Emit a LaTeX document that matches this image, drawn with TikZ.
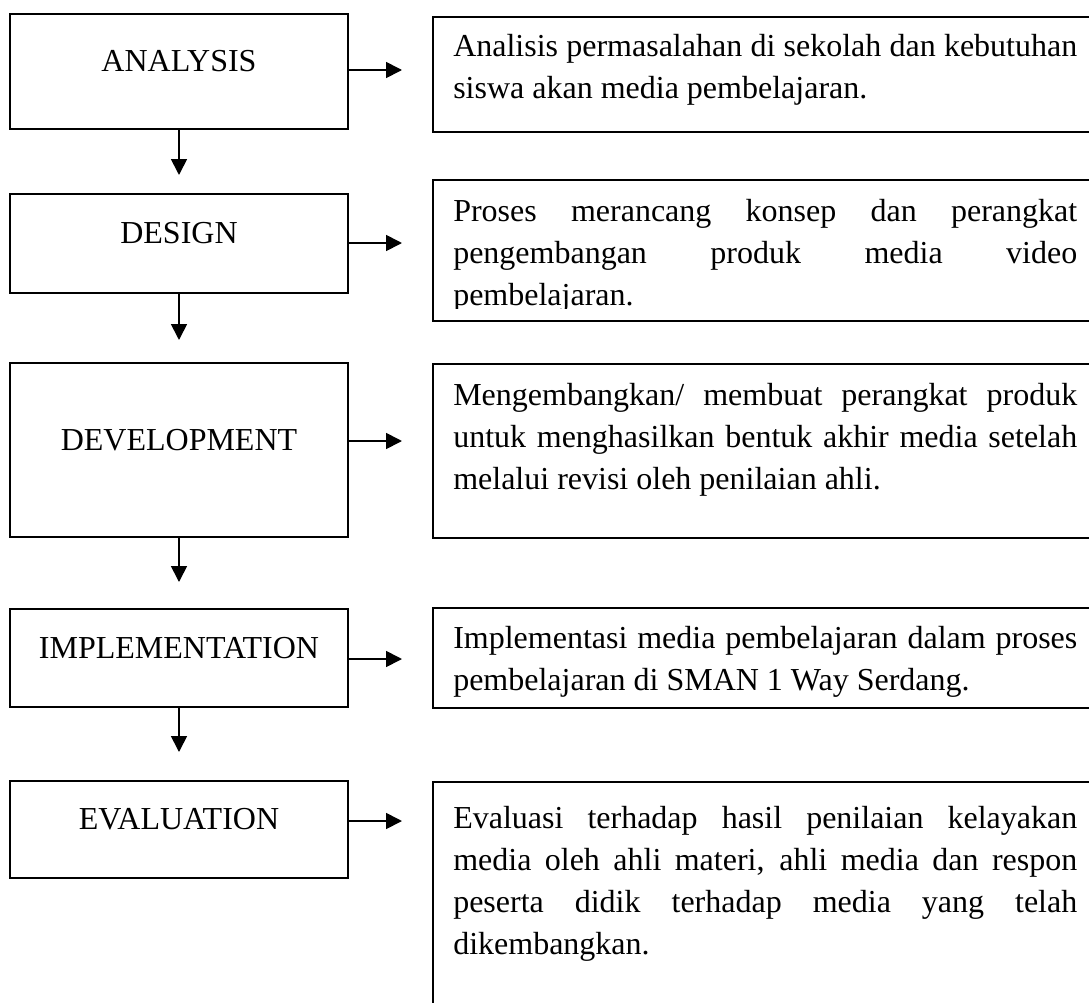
\documentclass[tikz,border=0pt]{standalone}
\usepackage{fontspec}
\setmainfont{Liberation Serif}
\usetikzlibrary{arrows.meta}
% justified description paragraph, baseline at its first line
\newcommand\descpar[1]{\parbox[t]{468pt}{\tolerance=9999\emergencystretch=10pt #1}}
\begin{document}
\begin{tikzpicture}[x=0.75pt,y=-0.75pt,
  stage/.style={draw, line width=1.4pt, minimum width=253.5pt, inner sep=0pt,
    text height=16pt, text depth=16pt, font=\fontsize{24pt}{28pt}\selectfont},
  descbox/.style={draw, line width=1.4pt, anchor=north west, minimum width=498pt, inner sep=0pt},
  desctext/.style={anchor=base west, inner sep=0pt, font=\fontsize{24pt}{31.5pt}\selectfont},
  conn/.style={line width=1.3pt, -{Triangle[length=12pt,width=12pt]}}]
\useasboundingbox (0,0) rectangle (1089,1003);
\fill[white] (0,0) rectangle (1089,1003);
\clip (0,0) rectangle (1089,1003);

% stages of the model
\node[stage, minimum height=86.25pt]  (an)  at (179,71.5)  {ANALYSIS};
\node[stage, minimum height=74.25pt]  (de)  at (179,243.5) {DESIGN};
\node[stage, minimum height=130.5pt]  (dv)  at (179,450)   {DEVELOPMENT};
\node[stage, minimum height=73.5pt]   (im)  at (179,658)   {IMPLEMENTATION};
\node[stage, minimum height=72.75pt]  (ev)  at (179,829.5) {EVALUATION};

% description frames
\node[descbox, minimum height=86.25pt] (rb1) at (432,16)  {};
\node[descbox, minimum height=105.75pt] (rb2) at (432,179) {};
\node[descbox, minimum height=130.5pt] (rb3) at (432,363) {};
\node[descbox, minimum height=75pt]    (rb4) at (432,607) {};
\node[descbox, minimum height=180pt]   (rb5) at (432,781) {};

% description texts
\node[desctext] (t1) at (453,56) {\descpar{Analisis permasalahan di sekolah dan kebutuhan\linebreak siswa akan media pembelajaran.}};
\begin{scope}
  \clip (432,179) rectangle (1096,308);
  \node[desctext] (t2) at (453,221) {\descpar{Proses merancang konsep dan perangkat\linebreak pengembangan produk media video\linebreak pembelajaran.}};
\end{scope}
\node[desctext] (t3) at (453,405) {\descpar{Mengembangkan/ membuat perangkat produk\linebreak untuk menghasilkan bentuk akhir media setelah\linebreak melalui revisi oleh penilaian ahli.}};
\node[desctext] (t4) at (453,648) {\descpar{Implementasi media pembelajaran dalam proses\linebreak pembelajaran di SMAN 1 Way Serdang.}};
\node[desctext] (t5) at (453,828) {\descpar{Evaluasi terhadap hasil penilaian kelayakan\linebreak media oleh ahli materi, ahli media dan respon\linebreak peserta didik terhadap media yang telah\linebreak dikembangkan.}};

% arrow end points
\coordinate (d1) at (179,175);
\coordinate (d2) at (179,340);
\coordinate (d3) at (179,582);
\coordinate (d4) at (179,752);
\coordinate (r1) at (402,70);
\coordinate (r2) at (402,243);
\coordinate (r3) at (402,441);
\coordinate (r4) at (402,659);
\coordinate (r5) at (402,821);

% downward flow
\draw[conn] (an.south) -- (d1);
\draw[conn] (de.south) -- (d2);
\draw[conn] (dv.south) -- (d3);
\draw[conn] (im.south) -- (d4);

% links to descriptions
\draw[conn] (an.east |- r1) -- (r1);
\draw[conn] (de.east |- r2) -- (r2);
\draw[conn] (dv.east |- r3) -- (r3);
\draw[conn] (im.east |- r4) -- (r4);
\draw[conn] (ev.east |- r5) -- (r5);
\end{tikzpicture}
\end{document}
